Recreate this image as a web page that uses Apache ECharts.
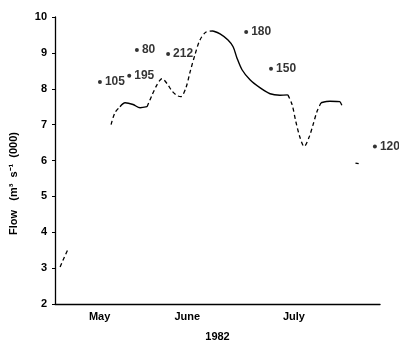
<!DOCTYPE html>
<html>
<head>
<meta charset="utf-8">
<script src="https://cdn.jsdelivr.net/npm/echarts@6/dist/echarts.min.js"></script>
<style>html,body{margin:0;padding:0;background:#fff}#c{width:399px;height:341px}</style>
</head>
<body>
<div id="c"></div>
<script>
// x = day of year 1982, y = flow (m3/s x1000)
const monthTickDays = [122, 149.5, 183];
const monthNames = ['May', 'June', 'July'];
const yTicks = [2, 3, 4, 5, 6, 7, 8, 9, 10];

// flow curve, dashed stretches (null separates pieces)
const flowDashed = [
  [109.6, 3.03], [110.5, 3.22], [112.1, 3.53], null,
  [125.6, 7.0], [126.8, 7.33], [128.4, 7.5], null,
  [136.9, 7.5], [138.4, 7.81], [140.0, 8.11], [141.6, 8.28], [143.2, 8.14], [144.7, 7.94],
  [146.3, 7.81], [147.5, 7.78], [149.1, 8.03], [150.4, 8.47], [151.9, 8.94], [153.5, 9.36],
  [155.4, 9.58], [157.6, 9.61], null,
  [181.1, 7.83], [182.4, 7.56], [183.6, 7.08], [184.9, 6.64], [186.2, 6.39], [187.7, 6.64],
  [189.0, 7.0], [190.2, 7.36], [191.5, 7.61], null,
  [197.5, 7.64], [198.4, 7.47], null,
  [202.3, 5.93], [203.3, 5.91]
];
// flow curve, solid stretches
const flowSolid = [
  [128.4, 7.5], [130.0, 7.61], [132.5, 7.56], [134.7, 7.47], [136.9, 7.5], null,
  [157.6, 9.61], [159.8, 9.53], [162.3, 9.36], [163.9, 9.17], [165.1, 8.86], [166.7, 8.53],
  [169.2, 8.25], [172.3, 8.03], [175.5, 7.86], [178.6, 7.82], [181.1, 7.83], null,
  [191.5, 7.61], [194.3, 7.65], [197.5, 7.64]
];

// labelled sample points
const sampleDays = [122.1, 131.3, 133.7, 143.5, 168.0, 175.8, 208.4];
const sampleFlow = [8.19, 8.36, 9.08, 8.97, 9.58, 8.56, 6.39];
const sampleIds = ['105', '195', '80', '212', '180', '150', '120'];

function split(arr) {
  const out = []; let cur = [];
  arr.forEach(p => { if (p === null) { if (cur.length) out.push(cur); cur = []; } else cur.push(p); });
  if (cur.length) out.push(cur);
  return out;
}

const FONT = 'Liberation Sans';
const series = [];
split(flowDashed).forEach(seg => series.push({
  type: 'line', data: seg, smooth: 0.3, symbol: 'none', silent: true,
  lineStyle: { color: '#000', width: 1.3, type: [4, 3] }
}));
split(flowSolid).forEach(seg => series.push({
  type: 'line', data: seg, smooth: 0.3, symbol: 'none', silent: true,
  lineStyle: { color: '#000', width: 1.4 }
}));
series.push({
  type: 'scatter',
  data: sampleDays.map((d, i) => ({ value: [d, sampleFlow[i]], name: sampleIds[i] })),
  symbol: 'circle', symbolSize: 4,
  itemStyle: { color: '#000' },
  label: {
    show: true, position: 'right', distance: 3, formatter: p => p.name,
    fontFamily: FONT, fontSize: 12, fontWeight: 'bold', color: '#000'
  }
});

const chart = echarts.init(document.getElementById('c'), null, { renderer: 'canvas' });
chart.setOption({
  animation: false,
  backgroundColor: '#fff',
  grid: { left: 55, right: 19, top: 17, bottom: 37, containLabel: false, outerBoundsMode: 'none' },
  xAxis: {
    type: 'value', min: 108, max: 210,
    name: '1982', nameLocation: 'middle', nameGap: 27,
    nameTextStyle: { fontFamily: FONT, fontSize: 11, fontWeight: 'bold', color: '#000' },
    axisLine: { show: true, lineStyle: { color: '#000', width: 1.4 } },
    axisTick: { show: false },
    splitLine: { show: false },
    axisLabel: {
      customValues: monthTickDays,
      formatter: v => monthNames[monthTickDays.indexOf(v)] || '',
      margin: 7, fontFamily: FONT, fontSize: 11, fontWeight: 'bold', color: '#000'
    }
  },
  yAxis: {
    type: 'value', min: 2, max: 10, interval: 1,
    name: 'Flow   (m³  s⁻¹  (000)', nameLocation: 'middle', nameGap: 36, nameRotate: 90,
    nameTextStyle: { fontFamily: FONT, fontSize: 11, fontWeight: 'bold', color: '#000', padding: [0, 46, 0, 0] },
    axisLine: { show: true, lineStyle: { color: '#000', width: 1.3 } },
    axisTick: { show: true, length: 3, lineStyle: { color: '#000' } },
    splitLine: { show: false },
    axisLabel: { margin: 8, fontFamily: FONT, fontSize: 11, fontWeight: 'bold', color: '#000' }
  },
  series: series
});
</script>
</body>
</html>
